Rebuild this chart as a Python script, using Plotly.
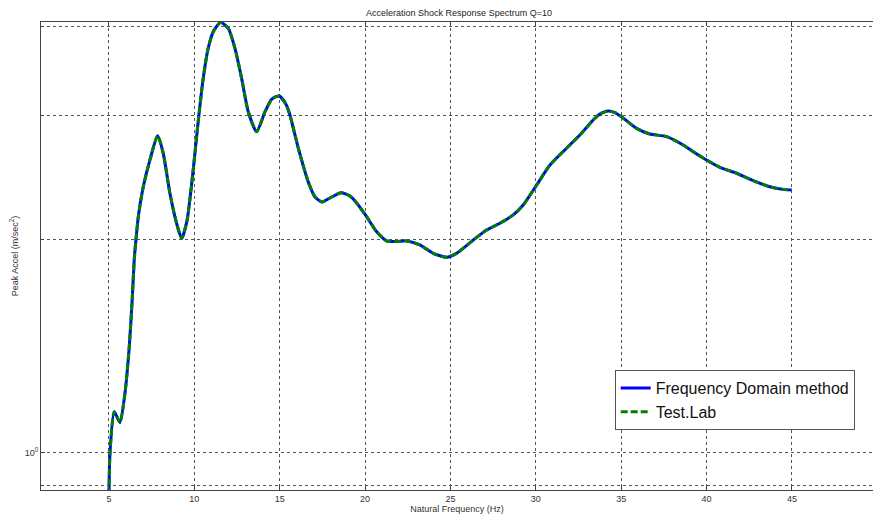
import plotly.graph_objects as go

freq_hz = [5.00, 5.06, 5.31, 5.64, 5.94, 6.19, 6.36, 6.48, 6.58, 6.72, 7.01, 7.40, 7.85,
           8.18, 8.57, 8.96, 9.26, 9.57, 9.94, 10.23, 10.52, 10.81, 11.11, 11.54, 11.99,
           12.38, 12.77, 13.16, 13.65, 14.14, 14.54, 14.97, 15.36, 15.60, 16.09, 16.67,
           17.06, 17.47, 17.94, 18.59, 19.11, 19.52, 20.09, 20.68, 21.26, 21.87, 22.44,
           23.21, 23.99, 24.78, 25.36, 26.34, 27.12, 27.90, 28.68, 29.26, 30.05, 30.83,
           31.80, 32.58, 33.36, 33.75, 34.24, 34.63, 35.02, 35.90, 36.68, 37.66, 38.63,
           39.22, 40.00, 40.78, 41.76, 42.73, 43.71, 44.49, 44.98]
peak_accel = [0.87, 1.00, 1.144, 1.104, 1.216, 1.413, 1.645, 1.874, 2.000, 2.158, 2.378,
              2.595, 2.808, 2.652, 2.328, 2.112, 2.011, 2.128, 2.520, 2.946, 3.384, 3.731,
              3.939, 4.061, 3.982, 3.731, 3.384, 3.036, 2.845, 3.036, 3.164, 3.195, 3.113,
              3.004, 2.696, 2.417, 2.302, 2.263, 2.293, 2.333, 2.307, 2.254, 2.158, 2.054,
              1.995, 1.990, 1.994, 1.968, 1.915, 1.891, 1.915, 2.000, 2.066, 2.112, 2.170,
              2.241, 2.392, 2.553, 2.696, 2.814, 2.955, 3.014, 3.043, 3.028, 2.987, 2.876,
              2.824, 2.800, 2.725, 2.666, 2.595, 2.534, 2.485, 2.426, 2.378, 2.358, 2.353]

x_ticks = [5, 10, 15, 20, 25, 30, 35, 40, 45, 50]
y_major_ticks = [1]
y_major_text = ["10<sup>0</sup>"]
y_minor_ticks = [0.9, 2, 3, 4]

fig = go.Figure()
fig.add_trace(go.Scatter(x=freq_hz, y=peak_accel, mode="lines", name="Frequency Domain method",
                         line=dict(color="#0000ff", width=3, shape="spline", smoothing=0.6)))
fig.add_trace(go.Scatter(x=freq_hz, y=peak_accel, mode="lines", name="Test.Lab",
                         line=dict(color="#008000", width=3, dash="7px,3px", shape="spline", smoothing=0.6)))

axis_font = dict(family="Arial, Liberation Sans, sans-serif", size=9, color="#333")
grid_c = "#555"
fig.update_layout(
    width=873, height=515,
    margin=dict(l=41, r=0, t=22, b=25),
    paper_bgcolor="white", plot_bgcolor="white",
    title=dict(text="Acceleration Shock Response Spectrum Q=10", x=459/873, xanchor="center",
               y=1 - 13/515, yanchor="middle",
               font=dict(family="Arial, Liberation Sans, sans-serif", size=9, color="#222")),
    xaxis=dict(range=[1.02, 49.75], tickvals=x_ticks, showgrid=True, gridcolor=grid_c,
               griddash="dot", gridwidth=1, showline=True, linecolor="#444", linewidth=1,
               mirror="ticks", ticks="inside", ticklen=4, tickcolor="#444", tickfont=axis_font,
               zeroline=False,
               title=dict(text="Natural Frequency (Hz)", font=axis_font, standoff=2)),
    yaxis=dict(type="log", range=[-0.0523, 0.6091], tickvals=y_major_ticks, ticktext=y_major_text,
               showgrid=True, gridcolor=grid_c, griddash="dot", gridwidth=1,
               showline=True, linecolor="#444", linewidth=1, mirror=False,
               ticks="inside", ticklen=4, tickcolor="#444", tickfont=axis_font, zeroline=False,
               minor=dict(tickvals=y_minor_ticks, showgrid=True, gridcolor=grid_c,
                          griddash="dot", gridwidth=1, ticks="inside", ticklen=3,
                          tickcolor="#444"),
               title=dict(text="Peak Accel (m/sec<sup>2</sup>)", font=axis_font, standoff=4)),
    legend=dict(x=0.978, y=0.128, xanchor="right", yanchor="bottom",
                bgcolor="white", bordercolor="#555", borderwidth=1,
                font=dict(family="Arial, Liberation Sans, sans-serif", size=16, color="#111"),
                itemwidth=30, tracegroupgap=0),
    showlegend=True,
)

fig.write_html("out.html")
